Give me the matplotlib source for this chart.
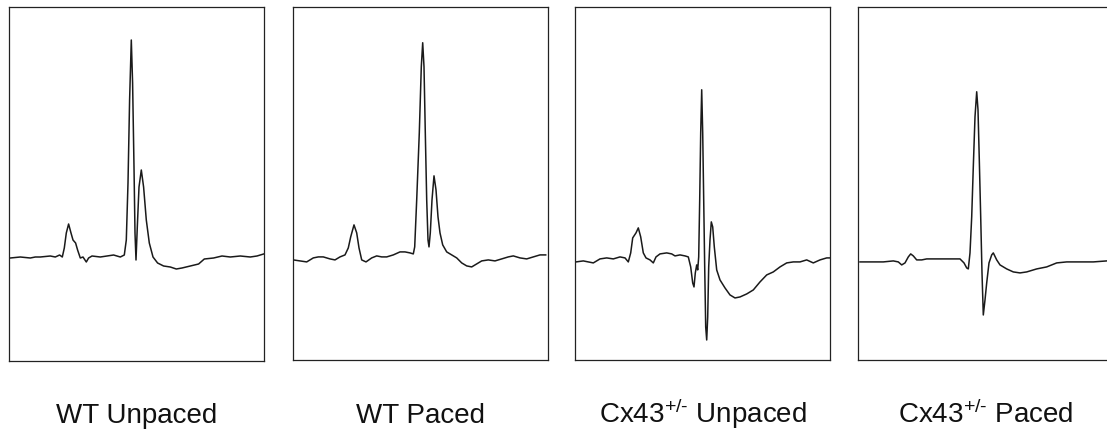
import matplotlib
matplotlib.use("Agg")
import matplotlib.pyplot as plt

plt.rcParams['font.family'] = ['Liberation Sans', 'DejaVu Sans']
plt.rcParams['mathtext.fontset'] = 'custom'
plt.rcParams['mathtext.rm'] = 'Liberation Sans'
plt.rcParams['mathtext.it'] = 'Liberation Sans'

# traces: time (ms, from left edge of box) and amplitude (a.u.)
wt_unpaced_t = [1, 11, 21, 26, 31, 41, 46, 50.3, 53, 55, 57, 59.3, 61.7, 63.7, 66.3, 68.3,
                71, 73.7, 77, 79.3, 82.7, 91, 97.7, 104.3, 111, 115, 117, 118.7, 120.3, 122,
                123.3, 124.7, 125.7, 126.7, 128, 129.7, 132, 134.3, 137, 140, 143.7, 148.3,
                154.3, 161, 167, 172.7, 181, 189.3, 195, 204.3, 212.7, 221, 231, 241, 247.7, 254.3]
wt_unpaced_v = [0.0, 0.01, 0.0, 0.01, 0.01, 0.02, 0.01, 0.03, 0.01, 0.10, 0.25, 0.34, 0.25,
                0.18, 0.15, 0.08, 0.0, 0.01, -0.04, 0.0, 0.02, 0.01, 0.02, 0.03, 0.01, 0.03,
                0.18, 0.75, 1.58, 2.18, 1.75, 0.91, 0.25, -0.02, 0.31, 0.71, 0.88, 0.71, 0.38,
                0.15, 0.01, -0.05, -0.08, -0.09, -0.11, -0.10, -0.08, -0.06, -0.01, 0.0, 0.02,
                0.01, 0.02, 0.01, 0.02, 0.04]

wt_paced_t = [0.6, 7.3, 14, 20.6, 25.6, 30.6, 37.3, 42.3, 47.3, 52.3, 55.6, 58, 61.3, 64,
              66.3, 69, 73.3, 79, 84, 89, 94, 100.6, 107.3, 112.3, 117.3, 120.6, 122, 124,
              126.6, 128.6, 130, 131.3, 132.6, 134, 135.3, 136.3, 137.6, 139.3, 141.3, 143.3,
              145.3, 147.3, 150, 154, 159, 164, 169, 174, 179, 184, 189, 195.6, 202.3, 209,
              215.6, 220.6, 227.3, 234, 240.6, 247.3, 253]
wt_paced_v = [0.0, -0.01, -0.02, 0.02, 0.03, 0.03, 0.01, 0.0, 0.03, 0.05, 0.12, 0.23, 0.35,
              0.27, 0.12, 0.0, -0.02, 0.02, 0.04, 0.03, 0.03, 0.05, 0.08, 0.08, 0.07, 0.06,
              0.13, 0.60, 1.27, 1.93, 2.17, 1.93, 1.27, 0.60, 0.20, 0.13, 0.27, 0.60, 0.84,
              0.70, 0.43, 0.27, 0.15, 0.08, 0.05, 0.02, -0.03, -0.06, -0.07, -0.04, -0.01,
              0.0, -0.01, 0.01, 0.03, 0.04, 0.02, 0.01, 0.03, 0.05, 0.05]

cx_unpaced_t = [0.7, 8, 18, 24.7, 31.4, 38, 44.7, 49.7, 53, 55.4, 57.4, 60.7, 63, 65.4, 68,
                70.7, 74.7, 78, 80.7, 84.7, 91.4, 96.4, 99.7, 104.7, 109.7, 113, 115.4, 117.4,
                118.7, 120, 121.4, 122.4, 123.4, 124.4, 125.4, 126.4, 127.4, 128.4, 129.4,
                130.4, 131.4, 132.4, 133.4, 134.7, 136, 137.4, 139, 141.4, 144.7, 149.7, 154.7,
                159.7, 164.7, 171.4, 178, 184.7, 191.4, 198, 204.7, 211.4, 218, 224.7, 231.4,
                238, 244.7, 251.4, 255.4]
cx_unpaced_v = [0.0, 0.01, -0.01, 0.03, 0.04, 0.03, 0.05, 0.04, 0.0, 0.09, 0.24, 0.29, 0.34,
                0.25, 0.09, 0.04, 0.02, -0.01, 0.05, 0.08, 0.09, 0.08, 0.06, 0.07, 0.06, 0.05,
                -0.05, -0.21, -0.25, -0.11, -0.03, -0.08, 0.05, 0.62, 1.29, 1.72, 1.29, 0.62,
                -0.05, -0.65, -0.78, -0.55, -0.05, 0.22, 0.40, 0.35, 0.15, -0.08, -0.18, -0.26,
                -0.33, -0.36, -0.35, -0.32, -0.28, -0.20, -0.13, -0.10, -0.05, -0.01, 0.0, 0.0,
                0.02, -0.01, 0.02, 0.04, 0.04]

cx_paced_t = [1.7, 15, 25, 35, 40, 43.4, 46.7, 50, 52.4, 55, 58.4, 63.4, 68.4, 81.7, 95,
              101.7, 105.7, 108.4, 110, 111.7, 113.4, 115, 116.7, 118.4, 119.7, 121, 122.4,
              123.7, 125, 126.7, 128.4, 130.7, 133.4, 135, 138.4, 141.7, 148.4, 155, 161.7,
              168.4, 178.4, 188.4, 198.4, 208.4, 221.7, 235, 248.4]
cx_paced_v = [0.0, 0.0, 0.0, 0.01, 0.0, -0.03, -0.01, 0.05, 0.08, 0.06, 0.02, 0.02, 0.03,
              0.03, 0.03, 0.03, -0.01, -0.06, -0.07, 0.09, 0.45, 0.95, 1.45, 1.70, 1.52,
              1.02, 0.45, -0.11, -0.53, -0.38, -0.21, -0.01, 0.07, 0.09, 0.02, -0.03, -0.07,
              -0.10, -0.11, -0.10, -0.07, -0.05, -0.01, 0.0, 0.0, 0.0, 0.01]

labels = ['WT Unpaced', 'WT Paced', r'Cx43$^{\text{+/-}}$ Unpaced', r'Cx43$^{\text{+/-}}$ Paced']
traces = [(wt_unpaced_t, wt_unpaced_v), (wt_paced_t, wt_paced_v),
          (cx_unpaced_t, cx_unpaced_v), (cx_paced_t, cx_paced_v)]
ylims = [(-1.03, 2.51), (-1.0, 2.53), (-0.98, 2.55), (-0.98, 2.55)]

W, H = 1107, 432
fig = plt.figure(figsize=(W / 100, H / 100), dpi=100)

# box geometry in pixels: left, top, bottom
boxes = [(9.3, 7, 361), (292.7, 6.7, 360), (575.3, 6.7, 360), (858.3, 6.7, 360)]
box_w = 255

for (t, v), lab, yl, (x0, top, bot) in zip(traces, labels, ylims, boxes):
    ax = fig.add_axes([x0 / W, 1 - bot / H, box_w / W, (bot - top) / H])
    ax.plot(t, v, color='#1a1a1a', lw=1.1, solid_joinstyle='round')
    ax.set_xlim(0, box_w)
    ax.set_ylim(*yl)
    ax.set_xticks([])
    ax.set_yticks([])
    for s in ax.spines.values():
        s.set_linewidth(0.9)
        s.set_color('#222222')
    fig.text((x0 + box_w / 2) / W, 1 - 423 / H, lab, ha='center', va='baseline',
             fontsize=20, color='#111111')

fig.savefig('out.png', dpi=100, facecolor='white')
